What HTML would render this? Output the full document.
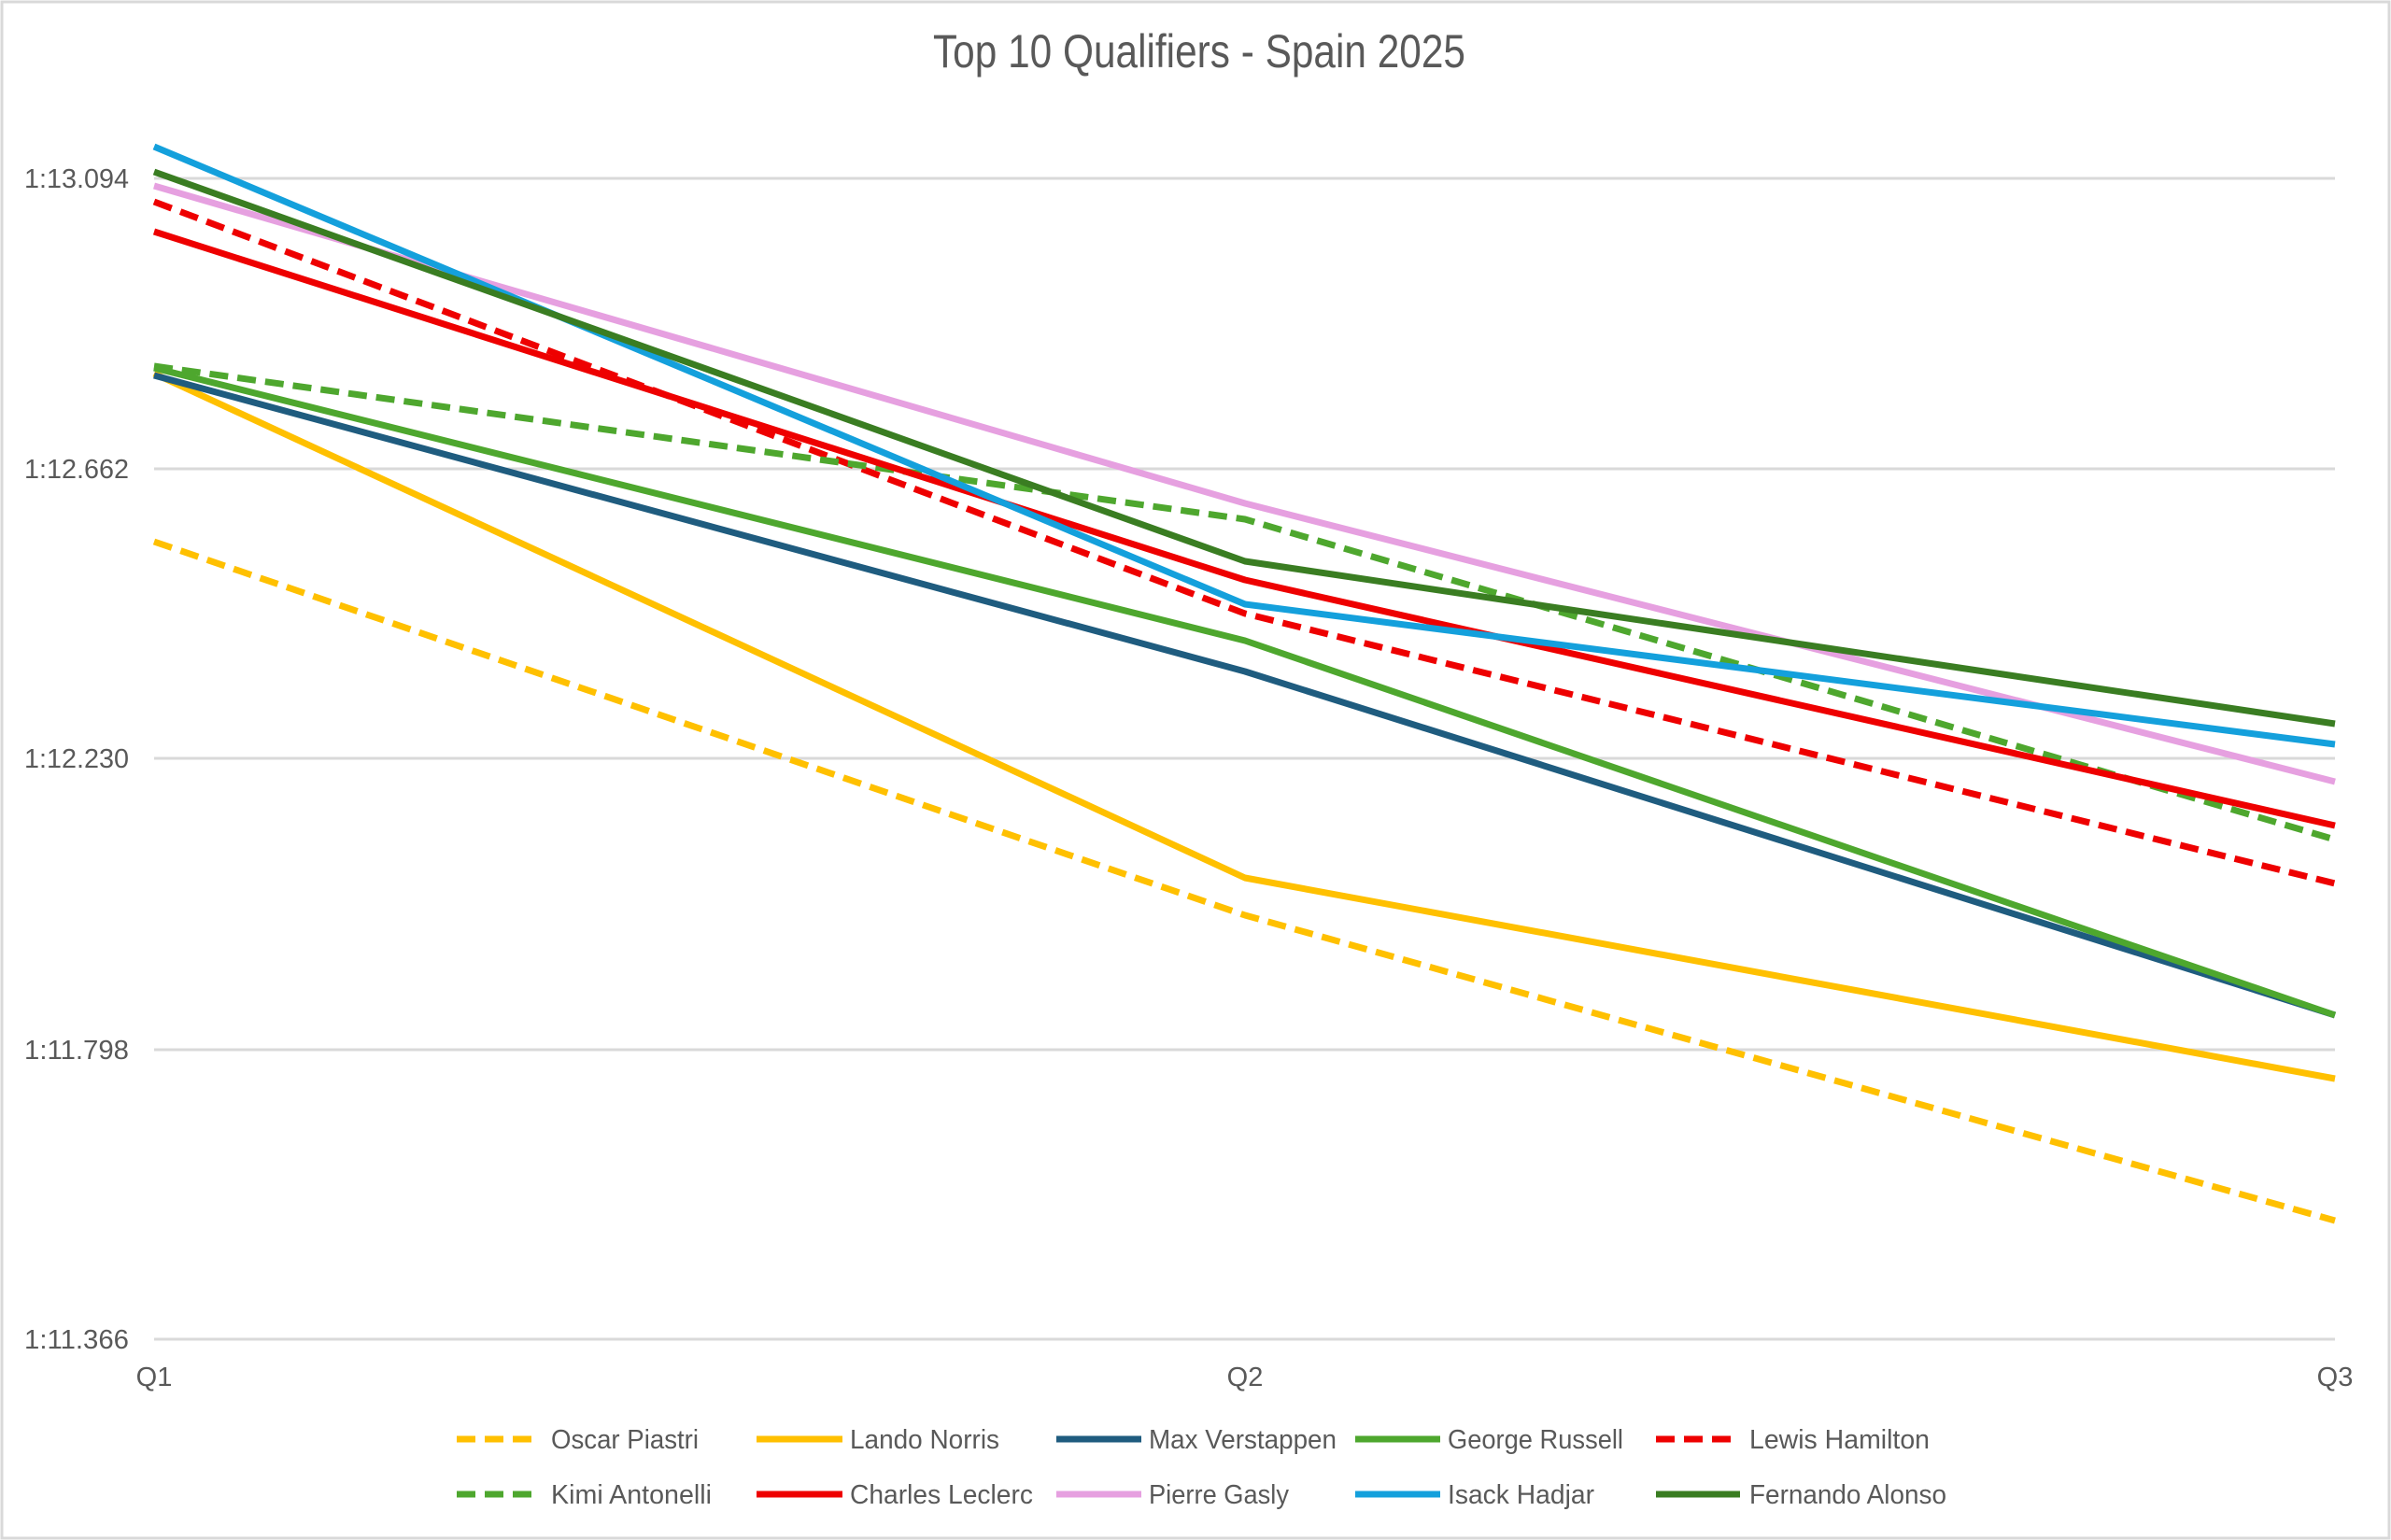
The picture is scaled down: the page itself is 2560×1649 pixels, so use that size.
<!DOCTYPE html>
<html><head><meta charset="utf-8"><style>
html,body{margin:0;padding:0;background:#fff}
svg{display:block}
text{font-family:"Liberation Sans",Arial,sans-serif;fill:#595959}
</style></head><body>
<svg width="2560" height="1649" viewBox="0 0 2560 1649" xmlns="http://www.w3.org/2000/svg">
<rect x="2" y="2" width="2556" height="1645" fill="#fff" stroke="#d9d9d9" stroke-width="3"/>
<text x="1284" y="72" font-size="50" text-anchor="middle" textLength="570" lengthAdjust="spacingAndGlyphs">Top 10 Qualifiers - Spain 2025</text>
<g stroke="#d9d9d9" stroke-width="3">
<line x1="165" y1="191" x2="2500" y2="191"/>
<line x1="165" y1="502" x2="2500" y2="502"/>
<line x1="165" y1="812" x2="2500" y2="812"/>
<line x1="165" y1="1124" x2="2500" y2="1124"/>
<line x1="165" y1="1434" x2="2500" y2="1434"/>
</g>
<g font-size="29" text-anchor="end">
<text x="138" y="201" textLength="112" lengthAdjust="spacingAndGlyphs">1:13.094</text>
<text x="138" y="512" textLength="112" lengthAdjust="spacingAndGlyphs">1:12.662</text>
<text x="138" y="822" textLength="112" lengthAdjust="spacingAndGlyphs">1:12.230</text>
<text x="138" y="1134" textLength="112" lengthAdjust="spacingAndGlyphs">1:11.798</text>
<text x="138" y="1444" textLength="112" lengthAdjust="spacingAndGlyphs">1:11.366</text>
</g>
<g font-size="29" text-anchor="middle">
<text x="165" y="1484">Q1</text>
<text x="1333" y="1484">Q2</text>
<text x="2500" y="1484">Q3</text>
</g>
<g fill="none" stroke-width="7" stroke-linejoin="round">
<polyline points="165,580 1333,980 2500,1307" stroke="#FFC000" stroke-dasharray="20 10"/>
<polyline points="165,400 1333,940 2500,1155" stroke="#FFC000"/>
<polyline points="165,402 1333,719 2500,1087" stroke="#1F5C7F"/>
<polyline points="165,394 1333,686 2500,1087" stroke="#4EA72E"/>
<polyline points="165,216 1333,657 2500,946" stroke="#EE0000" stroke-dasharray="20 10"/>
<polyline points="165,392 1333,556 2500,899" stroke="#4EA72E" stroke-dasharray="20 10"/>
<polyline points="165,248 1333,621 2500,884" stroke="#EE0000"/>
<polyline points="165,199 1333,539 2500,837" stroke="#E6A0E0"/>
<polyline points="165,157 1333,647 2500,797" stroke="#14A0DC"/>
<polyline points="165,184 1333,601 2500,775" stroke="#3A7D22"/>
</g>
<g stroke-width="7">
<line x1="489" y1="1541" x2="577" y2="1541" stroke="#FFC000" stroke-dasharray="20 10"/>
<line x1="810" y1="1541" x2="902" y2="1541" stroke="#FFC000"/>
<line x1="1131" y1="1541" x2="1222" y2="1541" stroke="#1F5C7F"/>
<line x1="1451" y1="1541" x2="1542" y2="1541" stroke="#4EA72E"/>
<line x1="1773" y1="1541" x2="1863" y2="1541" stroke="#EE0000" stroke-dasharray="20 10"/>
<line x1="489" y1="1600" x2="577" y2="1600" stroke="#4EA72E" stroke-dasharray="20 10"/>
<line x1="810" y1="1600" x2="902" y2="1600" stroke="#EE0000"/>
<line x1="1131" y1="1600" x2="1222" y2="1600" stroke="#E6A0E0"/>
<line x1="1451" y1="1600" x2="1542" y2="1600" stroke="#14A0DC"/>
<line x1="1773" y1="1600" x2="1863" y2="1600" stroke="#3A7D22"/>
</g>
<g font-size="29" lengthAdjust="spacingAndGlyphs">
<text x="590" y="1551" textLength="158" lengthAdjust="spacingAndGlyphs">Oscar Piastri</text>
<text x="910" y="1551" textLength="160" lengthAdjust="spacingAndGlyphs">Lando Norris</text>
<text x="1230" y="1551" textLength="201" lengthAdjust="spacingAndGlyphs">Max Verstappen</text>
<text x="1550" y="1551" textLength="188" lengthAdjust="spacingAndGlyphs">George Russell</text>
<text x="1873" y="1551" textLength="193" lengthAdjust="spacingAndGlyphs">Lewis Hamilton</text>
<text x="590" y="1610" textLength="172" lengthAdjust="spacingAndGlyphs">Kimi Antonelli</text>
<text x="910" y="1610" textLength="196" lengthAdjust="spacingAndGlyphs">Charles Leclerc</text>
<text x="1230" y="1610" textLength="150" lengthAdjust="spacingAndGlyphs">Pierre Gasly</text>
<text x="1550" y="1610" textLength="157" lengthAdjust="spacingAndGlyphs">Isack Hadjar</text>
<text x="1873" y="1610" textLength="211" lengthAdjust="spacingAndGlyphs">Fernando Alonso</text>
</g>
</svg>
</body></html>
